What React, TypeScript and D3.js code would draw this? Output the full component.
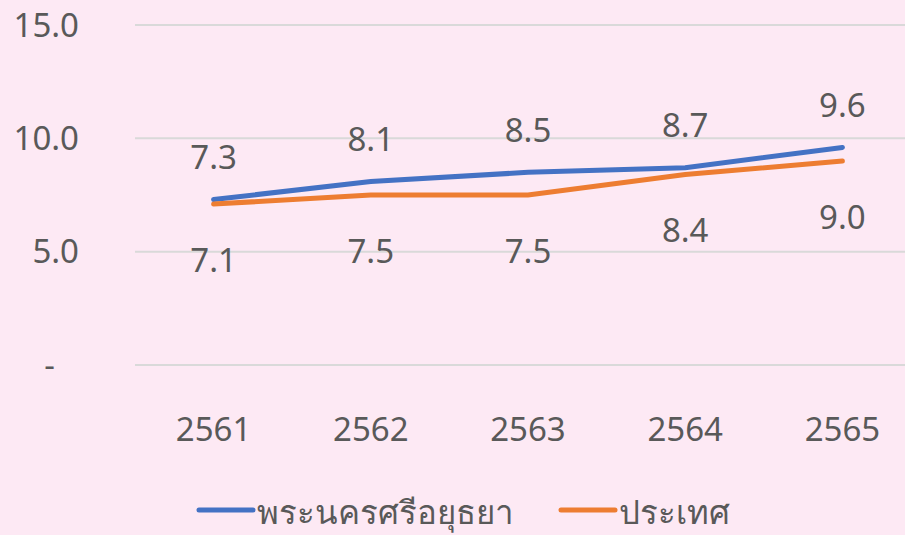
import React from 'react';
import * as d3 from 'd3';

// data
const years = ['2561', '2562', '2563', '2564', '2565'];
const ayutthaya = [7.3, 8.1, 8.5, 8.7, 9.6];
const country = [7.1, 7.5, 7.5, 8.4, 9.0];
const yTicks = [0, 5, 10, 15];
const seriesNames = ['พระนครศรีอยุธยา', 'ประเทศ'];
const seriesColors = ['#4472C4', '#ED7D31'];

const width = 905,
    height = 535;

const font = "'Noto Sans', 'DejaVu Sans', sans-serif";
const textColor = '#595959';
const fs = 33;

export default function App() {
    // x is a band scale so the plot runs past the right edge like the original crop
    const x = d3.scaleBand<string>()
        .domain(years)
        .range([135, 921]);
    const cx = (d: string) => (x(d) as number) + x.bandwidth() / 2;

    const y = d3.scaleLinear()
        .domain([0, 15])
        .range([365, 25]);

    const line = d3.line<number>()
        .x((d, i) => cx(years[i]))
        .y(d => y(d));

    const series = [ayutthaya, country];

    return (
        <svg width={width} height={height}
            style={{ position: 'absolute', left: 0, top: 0, background: '#FDE9F4' }}>
            <rect width={width} height={height} fill="#FDE9F4" />

            {/* gridlines + y labels */}
            {yTicks.map(t => (
                <g key={t}>
                    <line x1={135} x2={width} y1={y(t)} y2={y(t)}
                        stroke="#D9D9D9" strokeWidth={2} />
                    <text x={t === 0 ? 55 : 79} y={y(t)} dy="0.35em"
                        textAnchor="end" fontFamily={font} fontSize={fs} fill={textColor}>
                        {t === 0 ? '-' : d3.format('.1f')(t)}
                    </text>
                </g>
            ))}

            {/* x labels */}
            {years.map(d => (
                <text key={d} x={cx(d)} y={429} dy="0.35em" textAnchor="middle"
                    fontFamily={font} fontSize={fs} fill={textColor}>{d}</text>
            ))}

            {/* lines */}
            {series.map((s, i) => (
                <path key={i} d={line(s) || ''} fill="none"
                    stroke={seriesColors[i]} strokeWidth={5} strokeLinecap="round" />
            ))}

            {/* data labels: blue above, orange below */}
            {ayutthaya.map((v, i) => (
                <text key={'a' + i} x={cx(years[i])} y={y(v) - 42} dy="0.35em"
                    textAnchor="middle" fontFamily={font} fontSize={fs} fill={textColor}>
                    {d3.format('.1f')(v)}
                </text>
            ))}
            {country.map((v, i) => (
                <text key={'c' + i} x={cx(years[i])} y={y(v) + 56} dy="0.35em"
                    textAnchor="middle" fontFamily={font} fontSize={fs} fill={textColor}>
                    {d3.format('.1f')(v)}
                </text>
            ))}

            {/* legend */}
            {seriesNames.map((n, i) => {
                const lx = i === 0 ? 199 : 561;
                return (
                    <g key={n}>
                        <line x1={lx} x2={lx + 54} y1={510} y2={510}
                            stroke={seriesColors[i]} strokeWidth={5} strokeLinecap="round" />
                        <text x={lx + 58} y={512} dy="0.35em" fontFamily={font}
                            fontSize={fs} fill={textColor}>{n}</text>
                    </g>
                );
            })}
        </svg>
    );
}
